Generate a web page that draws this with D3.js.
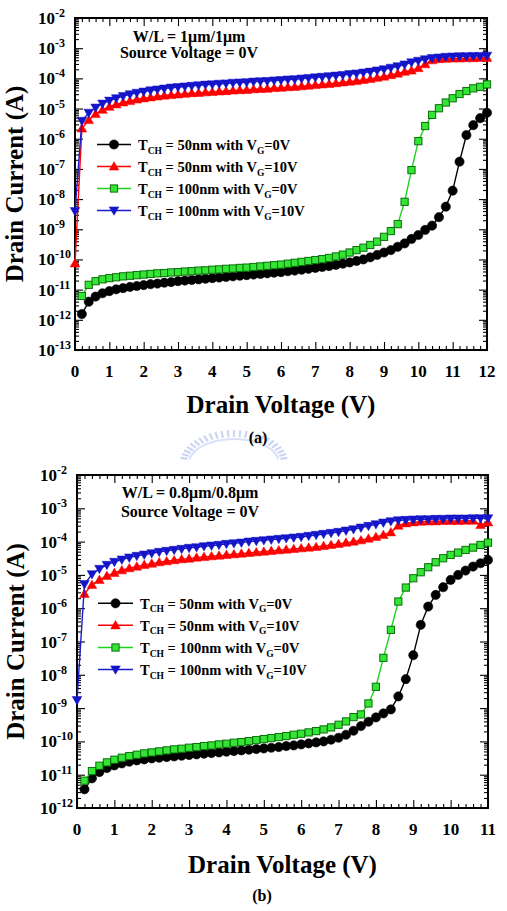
<!DOCTYPE html>
<html><head><meta charset="utf-8">
<script src="https://cdn.jsdelivr.net/npm/d3@7"></script>
<style>
html,body{margin:0;padding:0;background:#fff;}
svg{display:block;font-family:"Liberation Serif","Times New Roman",serif;font-weight:bold;}
</style>
</head><body>
<svg id="c" width="507" height="911" font-family="Liberation Serif, Times New Roman, serif"></svg>
<script>
// ---------- DATA ----------
// Drain voltage (V) sample points
const voltageA = [0,0.2,0.4,0.6,0.8,1,1.2,1.4,1.6,1.8,2,2.2,2.4,2.6,2.8,3,3.2,3.4,3.6,3.8,4,4.2,4.4,4.6,4.8,5,5.2,5.4,5.6,5.8,6,6.2,6.4,6.6,6.8,7,7.2,7.4,7.6,7.8,8,8.2,8.4,8.6,8.8,9,9.2,9.4,9.6,9.8,10,10.2,10.4,10.6,10.8,11,11.2,11.4,11.6,11.8,12];
const voltageB = [0,0.2,0.4,0.6,0.8,1,1.2,1.4,1.6,1.8,2,2.2,2.4,2.6,2.8,3,3.2,3.4,3.6,3.8,4,4.2,4.4,4.6,4.8,5,5.2,5.4,5.6,5.8,6,6.2,6.4,6.6,6.8,7,7.2,7.4,7.6,7.8,8,8.2,8.4,8.6,8.8,9,9.2,9.4,9.6,9.8,10,10.2,10.4,10.6,10.8,11];

// Drain current, stored as log10(I / A); null = no point drawn
// Panel (a): W/L = 1um/1um
const a_tch50_vg0 = [null,-11.81,-11.40,-11.23,-11.12,-11.05,-10.99,-10.95,-10.91,-10.88,-10.85,-10.82,-10.80,-10.77,-10.75,-10.72,-10.70,-10.68,-10.66,-10.64,-10.62,-10.60,-10.58,-10.56,-10.54,-10.52,-10.50,-10.48,-10.46,-10.44,-10.42,-10.39,-10.37,-10.34,-10.31,-10.28,-10.25,-10.22,-10.18,-10.14,-10.10,-10.05,-10.00,-9.93,-9.85,-9.77,-9.69,-9.58,-9.47,-9.32,-9.19,-9.02,-8.88,-8.60,-8.25,-7.72,-6.76,-5.88,-5.55,-5.32,-5.14];
const a_tch50_vg10 = [-10.13,-5.66,-5.38,-5.18,-5.04,-4.94,-4.86,-4.80,-4.75,-4.70,-4.66,-4.63,-4.60,-4.57,-4.55,-4.53,-4.51,-4.49,-4.48,-4.46,-4.45,-4.43,-4.42,-4.40,-4.39,-4.38,-4.36,-4.35,-4.34,-4.32,-4.31,-4.29,-4.28,-4.26,-4.24,-4.22,-4.20,-4.18,-4.16,-4.13,-4.11,-4.08,-4.05,-4.02,-3.98,-3.94,-3.89,-3.84,-3.78,-3.74,-3.66,-3.53,-3.40,-3.36,-3.35,-3.34,-3.34,-3.33,-3.33,-3.32,-3.32];
const a_tch100_vg0 = [null,-11.21,-10.84,-10.72,-10.66,-10.62,-10.59,-10.56,-10.54,-10.52,-10.50,-10.48,-10.46,-10.45,-10.43,-10.42,-10.40,-10.39,-10.37,-10.36,-10.34,-10.33,-10.31,-10.30,-10.28,-10.27,-10.25,-10.23,-10.21,-10.19,-10.17,-10.14,-10.11,-10.08,-10.05,-10.02,-9.99,-9.95,-9.90,-9.84,-9.77,-9.69,-9.61,-9.52,-9.41,-9.25,-9.06,-8.83,-8.09,-7.04,-6.08,-5.58,-5.21,-4.99,-4.80,-4.66,-4.52,-4.42,-4.33,-4.28,-4.20];
const a_tch100_vg10 = [-8.40,-5.41,-5.14,-4.97,-4.84,-4.74,-4.66,-4.59,-4.53,-4.48,-4.44,-4.40,-4.37,-4.34,-4.31,-4.29,-4.27,-4.25,-4.23,-4.21,-4.20,-4.18,-4.17,-4.15,-4.14,-4.13,-4.11,-4.10,-4.09,-4.07,-4.06,-4.04,-4.03,-4.01,-3.99,-3.97,-3.95,-3.93,-3.91,-3.89,-3.86,-3.84,-3.81,-3.78,-3.74,-3.70,-3.65,-3.60,-3.54,-3.47,-3.42,-3.37,-3.33,-3.31,-3.29,-3.28,-3.27,-3.27,-3.26,-3.26,-3.25];

// Panel (b): W/L = 0.8um/0.8um
const b_tch50_vg0 = [null,-11.44,-11.11,-10.92,-10.80,-10.72,-10.66,-10.61,-10.57,-10.54,-10.51,-10.49,-10.47,-10.45,-10.43,-10.41,-10.39,-10.37,-10.35,-10.33,-10.31,-10.29,-10.27,-10.25,-10.23,-10.21,-10.19,-10.17,-10.14,-10.12,-10.09,-10.06,-10.03,-10.00,-9.95,-9.89,-9.80,-9.68,-9.54,-9.41,-9.28,-9.16,-9.04,-8.65,-8.13,-7.41,-6.50,-5.95,-5.60,-5.37,-5.15,-5.00,-4.87,-4.75,-4.65,-4.55];
const b_tch50_vg10 = [null,-5.57,-5.30,-5.15,-5.03,-4.94,-4.86,-4.80,-4.75,-4.70,-4.66,-4.62,-4.59,-4.56,-4.53,-4.51,-4.48,-4.46,-4.44,-4.42,-4.40,-4.38,-4.36,-4.34,-4.32,-4.30,-4.28,-4.26,-4.24,-4.22,-4.20,-4.18,-4.16,-4.13,-4.10,-4.07,-4.03,-4.00,-3.96,-3.91,-3.86,-3.80,-3.72,-3.52,-3.45,-3.42,-3.40,-3.39,-3.39,-3.38,-3.38,-3.38,-3.37,-3.37,-3.50,-3.42];
const b_tch100_vg0 = [null,-11.18,-10.89,-10.73,-10.63,-10.55,-10.49,-10.44,-10.40,-10.36,-10.33,-10.30,-10.27,-10.24,-10.22,-10.19,-10.17,-10.14,-10.12,-10.09,-10.07,-10.04,-10.02,-9.99,-9.96,-9.93,-9.90,-9.87,-9.84,-9.80,-9.77,-9.73,-9.69,-9.64,-9.58,-9.50,-9.40,-9.27,-9.19,-8.86,-8.36,-7.49,-6.65,-5.80,-5.38,-5.10,-4.92,-4.77,-4.62,-4.50,-4.40,-4.33,-4.25,-4.18,-4.10,-4.03];
const b_tch100_vg10 = [-8.76,-5.28,-4.98,-4.82,-4.70,-4.61,-4.54,-4.48,-4.43,-4.39,-4.35,-4.31,-4.28,-4.25,-4.22,-4.19,-4.17,-4.14,-4.12,-4.10,-4.07,-4.05,-4.03,-4.00,-3.98,-3.96,-3.94,-3.92,-3.90,-3.88,-3.86,-3.83,-3.80,-3.77,-3.74,-3.71,-3.67,-3.63,-3.58,-3.53,-3.48,-3.43,-3.39,-3.36,-3.35,-3.34,-3.33,-3.33,-3.32,-3.32,-3.31,-3.31,-3.31,-3.30,-3.30,-3.30];

// Tick labels
const xTicksA = [0,1,2,3,4,5,6,7,8,9,10,11,12];
const xTicksB = [0,1,2,3,4,5,6,7,8,9,10,11];
const yExponentsA = [-13,-12,-11,-10,-9,-8,-7,-6,-5,-4,-3,-2];
const yExponentsB = [-12,-11,-10,-9,-8,-7,-6,-5,-4,-3,-2];

// Legend entries (T_CH, V_G)
const legendTch = ["50nm","50nm","100nm","100nm"];
const legendVg = ["0V","10V","0V","10V"];

// Text
const xTitle = "Drain Voltage (V)";
const yTitle = "Drain Current (A)";
const notesA = ["W/L = 1\u03bcm/1\u03bcm", "Source Voltage = 0V"];
const notesB = ["W/L = 0.8\u03bcm/0.8\u03bcm", "Source Voltage = 0V"];

// ---------- STYLES ----------
const styles = [
  {shape:"circle", fill:"#000000", stroke:"#000000", line:"#000000"},
  {shape:"up", fill:"#ff0000", stroke:"#ff0000", line:"#ff0000"},
  {shape:"square", fill:"#33e633", stroke:"#0a6e0a", line:"#1ed21e"},
  {shape:"down", fill:"#1414c8", stroke:"#1414c8", line:"#1a1ad0"}
];

const svg = d3.select("#c");

function marker(sel, shape, cx, cy, st) {
  if (shape === "circle") {
    sel.append("circle").attr("cx", cx).attr("cy", cy).attr("r", 4.6)
      .attr("fill", st.fill).attr("stroke", st.stroke).attr("stroke-width", 0.6);
  } else if (shape === "square") {
    sel.append("rect").attr("x", cx - 3.6).attr("y", cy - 3.6).attr("width", 7.2).attr("height", 7.2)
      .attr("fill", st.fill).attr("stroke", st.stroke).attr("stroke-width", 1);
  } else if (shape === "up") {
    sel.append("path").attr("d", `M${cx},${cy-4.8}L${cx+4.8},${cy+3.6}L${cx-4.8},${cy+3.6}Z`)
      .attr("fill", st.fill).attr("stroke", st.stroke).attr("stroke-width", 0.5);
  } else {
    sel.append("path").attr("d", `M${cx},${cy+4.8}L${cx+4.8},${cy-3.6}L${cx-4.8},${cy-3.6}Z`)
      .attr("fill", st.fill).attr("stroke", st.stroke).attr("stroke-width", 0.5);
  }
}

function drawPanel(cfg) {
  const g = svg.append("g");
  const x = d3.scaleLinear().domain([0, cfg.xTicks[cfg.xTicks.length-1]]).range([cfg.left, cfg.right]);
  const eMin = cfg.yExp[0], eMax = cfg.yExp[cfg.yExp.length-1];
  const y = d3.scaleLog().domain([Math.pow(10,eMin), Math.pow(10,eMax)]).range([cfg.bottom, cfg.top]);

  const majorY = cfg.yExp.map(e => Math.pow(10, e));
  const minorY = [];
  for (let e = eMin; e < eMax; e++) for (let k = 2; k <= 9; k++) minorY.push(k * Math.pow(10, e));
  const xMax = cfg.xTicks[cfg.xTicks.length-1];
  const minorX = d3.range(0, xMax * 5 + 1).map(i => i / 5).filter(v => Math.abs(v - Math.round(v)) > 1e-6);

  const clean = s => { s.select(".domain").remove(); s.selectAll("line").attr("stroke", "#000").attr("stroke-width", 1.1); };
  g.append("g").attr("transform", `translate(${cfg.left},0)`)
    .call(d3.axisLeft(y).tickValues(majorY).tickSize(-8).tickFormat("")).call(clean);
  g.append("g").attr("transform", `translate(${cfg.left},0)`)
    .call(d3.axisLeft(y).tickValues(minorY).tickSize(-4).tickFormat("")).call(clean);
  g.append("g").attr("transform", `translate(${cfg.right},0)`)
    .call(d3.axisRight(y).tickValues(majorY).tickSize(-8).tickFormat("")).call(clean);
  g.append("g").attr("transform", `translate(${cfg.right},0)`)
    .call(d3.axisRight(y).tickValues(minorY).tickSize(-4).tickFormat("")).call(clean);
  g.append("g").attr("transform", `translate(0,${cfg.bottom})`)
    .call(d3.axisBottom(x).tickValues(cfg.xTicks).tickSize(-8).tickFormat("")).call(clean);
  g.append("g").attr("transform", `translate(0,${cfg.bottom})`)
    .call(d3.axisBottom(x).tickValues(minorX).tickSize(-4).tickFormat("")).call(clean);
  g.append("g").attr("transform", `translate(0,${cfg.top})`)
    .call(d3.axisTop(x).tickValues(cfg.xTicks).tickSize(-8).tickFormat("")).call(clean);
  g.append("g").attr("transform", `translate(0,${cfg.top})`)
    .call(d3.axisTop(x).tickValues(minorX).tickSize(-4).tickFormat("")).call(clean);

  g.append("rect").attr("x", cfg.left).attr("y", cfg.top)
    .attr("width", cfg.right - cfg.left).attr("height", cfg.bottom - cfg.top)
    .attr("fill", "none").attr("stroke", "#000").attr("stroke-width", 2);

  cfg.yExp.forEach(e => {
    const t = g.append("text").attr("x", cfg.labelX).attr("y", y(Math.pow(10, e)) + 6)
      .attr("font-size", 17).attr("fill", "#000");
    t.append("tspan").text("10");
    t.append("tspan").attr("font-size", 12).attr("dy", -7).text(String(e));
  });
  cfg.xTicks.forEach(v => {
    g.append("text").attr("x", x(v)).attr("y", cfg.xLabelY).attr("text-anchor", "middle")
      .attr("font-size", 17).attr("fill", "#000").text(v);
  });
  g.append("text").attr("x", (cfg.left + cfg.right) / 2).attr("y", cfg.xTitleY)
    .attr("text-anchor", "middle").attr("font-size", 25).text(xTitle);
  g.append("text").attr("transform", `translate(${cfg.yTitleX},${(cfg.top + cfg.bottom) / 2}) rotate(-90)`)
    .attr("text-anchor", "middle").attr("font-size", 25).text(yTitle);
  g.append("text").attr("x", cfg.capX).attr("y", cfg.capY).attr("text-anchor", "middle")
    .attr("font-size", 16).text(cfg.caption);
  cfg.notes.forEach((s, i) => {
    g.append("text").attr("x", cfg.noteX).attr("y", cfg.noteY[i]).attr("text-anchor", "middle")
      .attr("font-size", 16).text(s);
  });

  cfg.series.forEach((vals, si) => {
    const st = styles[si];
    const pts = cfg.volt.map((v, i) => ({v, c: vals[i]})).filter(d => d.c !== null);
    const line = d3.line().x(d => x(d.v)).y(d => y(Math.pow(10, d.c)));
    g.append("path").attr("d", line(pts)).attr("fill", "none")
      .attr("stroke", st.line).attr("stroke-width", 1.4);
    const mg = g.append("g");
    pts.forEach(d => marker(mg, st.shape, x(d.v), y(Math.pow(10, d.c)), st));
  });

  legendTch.forEach((tch, i) => {
    const st = styles[i], ly = cfg.legY[i];
    g.append("line").attr("x1", cfg.legX0).attr("x2", cfg.legX1).attr("y1", ly).attr("y2", ly)
      .attr("stroke", st.line).attr("stroke-width", 1.6);
    marker(g, st.shape, (cfg.legX0 + cfg.legX1) / 2, ly, st);
    const t = g.append("text").attr("x", cfg.legTextX).attr("y", ly + 5.5).attr("font-size", 14.5);
    t.append("tspan").text("T");
    t.append("tspan").attr("font-size", 9.5).attr("dy", 3.5).text("CH");
    t.append("tspan").attr("dy", -3.5).text(` = ${tch} with V`);
    t.append("tspan").attr("font-size", 9.5).attr("dy", 3.5).text("G");
    t.append("tspan").attr("dy", -3.5).text(`=${legendVg[i]}`);
  });
}

drawPanel({
  left: 75, right: 487, top: 18, bottom: 350,
  xTicks: xTicksA, yExp: yExponentsA, volt: voltageA,
  series: [a_tch50_vg0, a_tch50_vg10, a_tch100_vg0, a_tch100_vg10],
  labelX: 38, xLabelY: 377, xTitleY: 413, yTitleX: 23,
  caption: "(a)", capX: 258, capY: 443,
  notes: notesA, noteX: 189, noteY: [41.5, 58],
  legX0: 97, legX1: 131, legTextX: 138, legY: [144.5, 166.5, 188.5, 210.5]
});
drawPanel({
  left: 77, right: 488, top: 475, bottom: 808,
  xTicks: xTicksB, yExp: yExponentsB, volt: voltageB,
  series: [b_tch50_vg0, b_tch50_vg10, b_tch100_vg0, b_tch100_vg10],
  labelX: 40, xLabelY: 835, xTitleY: 873, yTitleX: 24,
  caption: "(b)", capX: 262, capY: 901,
  notes: notesB, noteX: 190, noteY: [498, 517],
  legX0: 98, legX1: 133, legTextX: 140, legY: [603.3, 625.3, 647.5, 669.5]
});

// faint watermark logo behind "(a)"
(function(){
  const wm = svg.insert("g", ":first-child").attr("opacity", 0.45);
  const cx = 234, cy = 463, rx = 54, ry = 33;
  const angles = d3.range(0, 25).map(i => Math.PI * (1.05 + 0.9 * i / 24));
  angles.forEach(a => {
    const x1 = cx + rx * Math.cos(a), y1 = cy + ry * Math.sin(a);
    const x2 = cx + (rx - 7) * Math.cos(a), y2 = cy + (ry - 7) * Math.sin(a);
    wm.append("line").attr("x1", x1).attr("y1", y1).attr("x2", x2).attr("y2", y2)
      .attr("stroke", "#8fa6e6").attr("stroke-width", 2.2);
  });
  wm.append("path").attr("d", d3.line().curve(d3.curveBasis)(angles.map(a => [cx + (rx - 9) * Math.cos(a), cy + (ry - 9) * Math.sin(a)])))
    .attr("fill", "none").attr("stroke", "#a9bbee").attr("stroke-width", 2);
})();
</script>
</body></html>
